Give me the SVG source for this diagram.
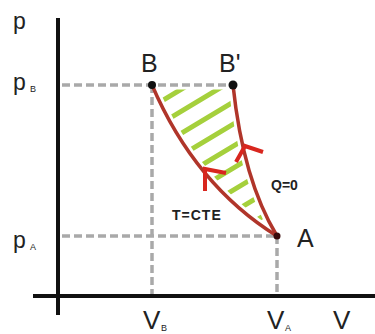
<svg xmlns="http://www.w3.org/2000/svg" width="375" height="334" viewBox="0 0 375 334">
<style>
text{font-family:"Liberation Sans",Arial,sans-serif;fill:#222}
.lab{font-size:25px}
.sub{font-size:9px}
.bold{font-size:14px;font-weight:bold}
.vl{font-size:26px}
.dash{stroke:#a9a9a9;stroke-width:3.5;stroke-dasharray:8 4;fill:none}
.curve{stroke:#b0352a;stroke-width:3.5;fill:none;stroke-linecap:round}
.halo{stroke:#fff;stroke-width:9;fill:none}
.hatch{stroke:#a5d03c;stroke-width:5;stroke-linecap:round}
.arrow{stroke:#d8261e;stroke-width:4;fill:none;stroke-linejoin:miter}
.axis{stroke:#111;stroke-width:4}
</style>
<defs>
<clipPath id="region">
<path d="M152,85 Q195,185 277,236 Q243,180 233,85 Z"/>
</clipPath>
</defs>
<rect width="375" height="334" fill="#fff"/>
<g id="hatching" clip-path="url(#region)">
<line class="hatch" x1="140" y1="114" x2="300" y2="18"/>
<line class="hatch" x1="140" y1="136" x2="300" y2="40"/>
<line class="hatch" x1="140" y1="158" x2="300" y2="62"/>
<line class="hatch" x1="140" y1="180" x2="300" y2="84"/>
<line class="hatch" x1="140" y1="202" x2="300" y2="106"/>
<line class="hatch" x1="140" y1="224" x2="300" y2="128"/>
<line class="hatch" x1="140" y1="246" x2="300" y2="150"/>
<line class="hatch" x1="140" y1="268" x2="300" y2="172"/>
<line class="hatch" x1="140" y1="290" x2="300" y2="194"/>
<line class="hatch" x1="140" y1="312" x2="300" y2="216"/>
</g>
<g id="halos">
<path class="halo" d="M152,85 Q195,185 277,236"/>
<path class="halo" d="M233,85 Q243,180 277,236"/>
<line class="halo" x1="152" y1="85" x2="233" y2="85"/>
</g>
<g id="axes">
<line class="axis" x1="58" y1="18" x2="58" y2="315"/>
<line class="axis" x1="33" y1="296" x2="375" y2="296"/>
</g>
<g id="guides">
<line class="dash" x1="62" y1="85" x2="233" y2="85"/>
<line class="dash" x1="62" y1="236" x2="277" y2="236"/>
<line class="dash" x1="152" y1="85" x2="152" y2="294"/>
<line class="dash" x1="277" y1="236" x2="277" y2="294"/>
</g>
<g id="connectors">
<g id="isotherm">
<path class="curve" d="M277,236 Q195,185 152,85"/>
<path class="arrow" d="M205,191 L205,169 L226,173"/>
</g>
<g id="adiabat">
<path class="curve" d="M277,236 Q243,180 233,85"/>
<path class="arrow" d="M236,162 L245,146 L263,152"/>
</g>
</g>
<g id="node-B">
<circle cx="152" cy="85" r="4" fill="#111"/>
<text class="lab" x="141" y="72">B</text>
</g>
<g id="node-Bprime">
<circle cx="233" cy="85" r="4.5" fill="#111"/>
<text class="lab" x="219" y="72">B'</text>
</g>
<g id="node-A">
<circle cx="277" cy="236" r="3.5" fill="#3a0a0a"/>
<text class="lab" x="297" y="247">A</text>
</g>
<g id="labels">
<text style="font-size:23px" x="13" y="29">p</text>
<text style="font-size:23px" x="13" y="90">p</text>
<text class="sub" x="30" y="92">B</text>
<text style="font-size:23px" x="13" y="248">p</text>
<text class="sub" x="30" y="250">A</text>
<text class="bold" x="271" y="190">Q=0</text>
<text class="bold" x="172" y="220" letter-spacing="1">T=CTE</text>
<text class="vl" x="143" y="329">V</text>
<text class="sub" x="161" y="331">B</text>
<text class="vl" x="267" y="329">V</text>
<text class="sub" x="285" y="331">A</text>
<text class="vl" x="333" y="329">V</text>
</g>
</svg>
